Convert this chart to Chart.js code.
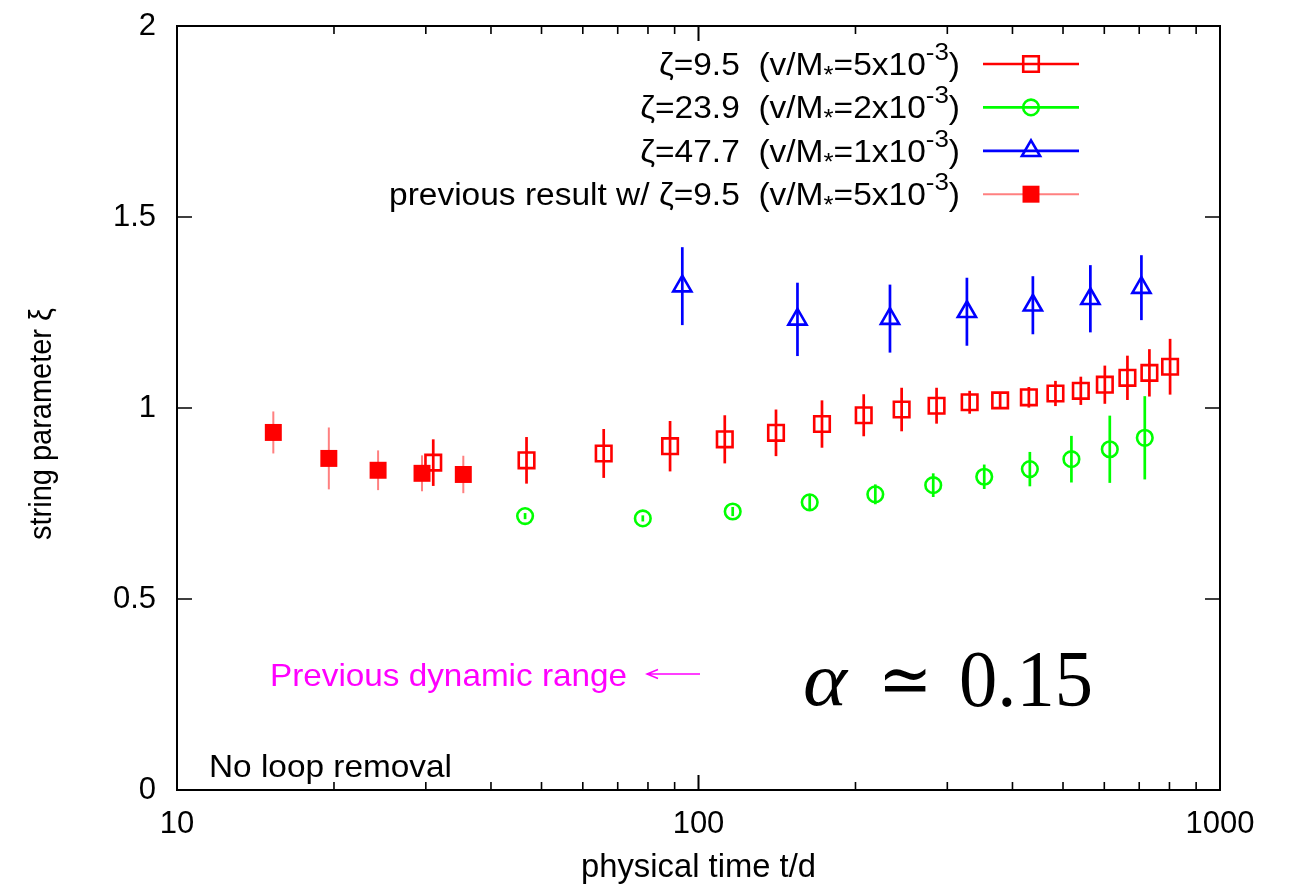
<!DOCTYPE html>
<html lang="en">
<head>
<meta charset="UTF-8">
<title>string parameter xi vs physical time</title>
<script src="https://cdn.jsdelivr.net/npm/chart.js"></script>
<style>
  html, body { margin: 0; padding: 0; background: #fff; }
  #wrap { width: 1292px; height: 892px; position: relative; }
</style>
</head>
<body>
<div id="wrap"><canvas id="myChart"></canvas></div>
<script>
// zeta = 9.5  (v/M* = 5x10^-3)
var tZeta95 = [31.0, 46.8, 65.8, 88.2, 112.3, 140.8, 172.5, 207.4, 245.2, 286.1, 331.1, 378.8, 430.0, 483.6, 540.9, 601.4, 664.5, 732.2, 802.2];
var xiZeta95 = [0.857, 0.863, 0.881, 0.900, 0.918, 0.935, 0.958, 0.981, 0.996, 1.006, 1.015, 1.020, 1.028, 1.038, 1.045, 1.061, 1.079, 1.092, 1.108];
var errZeta95 = [0.061, 0.061, 0.064, 0.066, 0.063, 0.061, 0.062, 0.055, 0.057, 0.047, 0.030, 0.020, 0.027, 0.033, 0.037, 0.050, 0.058, 0.062, 0.073];

// zeta = 23.9  (v/M* = 2x10^-3)
var tZeta239 = [46.5, 78.2, 116.3, 163.4, 218.3, 281.9, 353.1, 431.9, 518.9, 614.7, 717.4];
var xiZeta239 = [0.717, 0.711, 0.729, 0.753, 0.774, 0.798, 0.820, 0.840, 0.866, 0.892, 0.922];
var errZeta239 = [0.008, 0.008, 0.012, 0.020, 0.026, 0.031, 0.032, 0.045, 0.061, 0.088, 0.109];

// zeta = 47.7  (v/M* = 1x10^-3)
var tZeta477 = [93.1, 154.8, 232.9, 327.1, 437.7, 564.2, 706.8];
var xiZeta477 = [1.319, 1.232, 1.234, 1.252, 1.269, 1.286, 1.315];
var errZeta477 = [0.102, 0.096, 0.089, 0.089, 0.076, 0.088, 0.085];

// previous result w/ zeta = 9.5
var tPrev = [15.3, 19.55, 24.3, 29.5, 35.4];
var xiPrev = [0.936, 0.868, 0.837, 0.829, 0.826];
var errPrev = [0.055, 0.081, 0.052, 0.047, 0.049];

var xTicks = [10, 100, 1000];
var xTickLabels = ['10', '100', '1000'];
var yTicks = [0, 0.5, 1, 1.5, 2];
var yTickLabels = ['0', '0.5', '1', '1.5', '2'];

var FONT = "'Liberation Sans', Arial, sans-serif";
Chart.defaults.font.family = FONT;
Chart.defaults.color = '#000';

function pts(xs, ys) {
    return xs.map(function (x, i) { return { x: x, y: ys[i] }; });
}

var datasets = [
    { label: 'zeta95', data: pts(tZeta95, xiZeta95), err: errZeta95,
      pointStyle: 'rect', pointRadius: 11, pointBorderWidth: 2.6,
      pointBorderColor: '#ff0000', pointBackgroundColor: 'rgba(0,0,0,0)',
      barColor: '#ff0000', barWidth: 2.7 },
    { label: 'zeta239', data: pts(tZeta239, xiZeta239), err: errZeta239,
      pointStyle: 'circle', pointRadius: 7.8, pointBorderWidth: 2.6,
      pointBorderColor: '#00ff00', pointBackgroundColor: 'rgba(0,0,0,0)',
      barColor: '#00ff00', barWidth: 2.7 },
    { label: 'zeta477', data: pts(tZeta477, xiZeta477), err: errZeta477,
      pointStyle: 'triangle', pointRadius: 10.5, pointBorderWidth: 2.6,
      pointBorderColor: '#0000ff', pointBackgroundColor: 'rgba(0,0,0,0)',
      barColor: '#0000ff', barWidth: 2.7 },
    { label: 'prev', data: pts(tPrev, xiPrev), err: errPrev,
      pointStyle: 'rect', pointRadius: 12, pointBorderWidth: 0,
      pointBorderColor: '#ff0000', pointBackgroundColor: '#ff0000',
      barColor: '#ff8080', barWidth: 2 }
];

// legend rows: text, subscript '*', text, superscript '-3', ')'
var legendRows = [
    { pre: 'ζ=9.5  (v/M', mid: '=5x10', color: '#ff0000', lw: 2.7, marker: 'rect', r: 11, fill: false },
    { pre: 'ζ=23.9  (v/M', mid: '=2x10', color: '#00ff00', lw: 2.7, marker: 'circle', r: 7.8, fill: false },
    { pre: 'ζ=47.7  (v/M', mid: '=1x10', color: '#0000ff', lw: 2.7, marker: 'triangle', r: 10.5, fill: false },
    { pre: 'previous result w/ ζ=9.5  (v/M', mid: '=5x10', color: '#ff0000', lineColor: '#ff8080', lw: 2, marker: 'rect', r: 12, fill: true }
];

function marker(c, style, r, x, y, fill) {
    c.beginPath();
    if (style === 'rect') {
        var s = r * Math.SQRT1_2;
        c.rect(x - s, y - s, 2 * s, 2 * s);
    } else if (style === 'circle') {
        c.arc(x, y, r, 0, 2 * Math.PI);
    } else {
        c.moveTo(x, y - r);
        c.lineTo(x + 0.866 * r, y + 0.5 * r);
        c.lineTo(x - 0.866 * r, y + 0.5 * r);
        c.closePath();
    }
    if (fill) c.fill(); else c.stroke();
}

function fitText(c, text, x, y, font, width, align, base) {
    c.save();
    c.font = font;
    c.textBaseline = base || 'alphabetic';
    var w = c.measureText(text).width;
    var sx = width ? width / w : 1;
    c.translate(x, y);
    c.scale(sx, 1);
    c.textAlign = align || 'left';
    c.fillText(text, 0, 0);
    c.restore();
}

var errorBars = {
    id: 'errorBars',
    beforeDatasetsDraw: function (chart) {
        var c = chart.ctx, xs = chart.scales.x, ys = chart.scales.y;
        c.save();
        chart.data.datasets.forEach(function (ds) {
            c.strokeStyle = ds.barColor;
            c.lineWidth = ds.barWidth;
            ds.data.forEach(function (p, i) {
                var px = xs.getPixelForValue(p.x);
                c.beginPath();
                c.moveTo(px, ys.getPixelForValue(p.y - ds.err[i]));
                c.lineTo(px, ys.getPixelForValue(p.y + ds.err[i]));
                c.stroke();
            });
        });
        c.restore();
    }
};

var decorations = {
    id: 'decorations',
    afterDraw: function (chart) {
        var c = chart.ctx, a = chart.chartArea;
        var xs = chart.scales.x, ys = chart.scales.y;
        c.save();
        // frame
        c.strokeStyle = '#000';
        c.lineWidth = 2;
        c.strokeRect(a.left, a.top, a.right - a.left, a.bottom - a.top);
        // y ticks, inward on both sides
        c.lineWidth = 1.6;
        yTicks.forEach(function (v) {
            var py = ys.getPixelForValue(v);
            c.beginPath();
            c.moveTo(a.left, py); c.lineTo(a.left + 15, py);
            c.moveTo(a.right, py); c.lineTo(a.right - 15, py);
            c.stroke();
        });
        // x ticks (log, with minor ones)
        for (var d = 10; d < 1000; d *= 10) {
            for (var k = 1; k <= 10; k++) {
                var px = xs.getPixelForValue(k * d);
                var len = (k === 1 || k === 10) ? 15 : 8;
                c.beginPath();
                c.moveTo(px, a.bottom); c.lineTo(px, a.bottom - len);
                c.moveTo(px, a.top); c.lineTo(px, a.top + len);
                c.stroke();
            }
        }
        // axis titles
        c.fillStyle = '#000';
        fitText(c, 'physical time t/d', (a.left + a.right) / 2, 868, '34px ' + FONT, 235, 'center', 'middle');
        c.save();
        c.translate(42, 424);
        c.rotate(-Math.PI / 2);
        fitText(c, 'string parameter ξ', 0, 0, '31px ' + FONT, 232, 'center', 'middle');
        c.restore();

        // legend
        var big = '31px ' + FONT, small = '24px ' + FONT;
        function rowWidth(r) {
            c.font = big;
            var w = c.measureText(r.pre).width + c.measureText(r.mid).width + c.measureText(')').width;
            c.font = small;
            w += c.measureText('*').width + c.measureText('-3').width;
            return w;
        }
        var sx = 571 / rowWidth(legendRows[3]);
        legendRows.forEach(function (r, i) {
            var yc = 64 + i * 43.4, base = yc + 11;
            var w = rowWidth(r);
            c.save();
            c.translate(960, base);
            c.scale(sx, 1);
            c.fillStyle = '#000';
            c.textBaseline = 'alphabetic';
            c.textAlign = 'left';
            var x = -w;
            c.font = big; c.fillText(r.pre, x, 0); x += c.measureText(r.pre).width;
            c.font = small; c.fillText('*', x, 8); x += c.measureText('*').width;
            c.font = big; c.fillText(r.mid, x, 0); x += c.measureText(r.mid).width;
            c.font = small; c.fillText('-3', x, -15); x += c.measureText('-3').width;
            c.font = big; c.fillText(')', x, 0);
            c.restore();
            c.strokeStyle = r.lineColor || r.color;
            c.lineWidth = r.lw;
            c.beginPath();
            c.moveTo(983, yc); c.lineTo(1079, yc);
            c.stroke();
            c.strokeStyle = r.color;
            c.fillStyle = r.color;
            c.lineWidth = 2.6;
            marker(c, r.marker, r.r, 1031, yc, r.fill);
        });

        // annotations
        c.fillStyle = '#ff00ff';
        fitText(c, 'Previous dynamic range', 270, 686, '32px ' + FONT, 357);
        c.strokeStyle = '#ff00ff';
        c.lineWidth = 1.5;
        c.beginPath();
        c.moveTo(700, 674); c.lineTo(647, 674);
        c.moveTo(658, 669.5); c.lineTo(647, 674); c.lineTo(658, 678.5);
        c.stroke();

        c.fillStyle = '#000';
        fitText(c, 'No loop removal', 209, 777, '32px ' + FONT, 243);

        fitText(c, 'α', 803, 705, 'italic 76px "Liberation Serif", serif', 44);
        fitText(c, '≃', 878, 704, '72px "Liberation Serif", "DejaVu Serif", serif', 54);
        fitText(c, '0.15', 959, 706, '80px "Liberation Serif", serif', 134);
        c.restore();
    }
};

function noPad(s) {
    s.paddingTop = 0; s.paddingBottom = 0;
    s.paddingLeft = 0; s.paddingRight = 0;
}

var ctx = document.getElementById('myChart').getContext('2d');
var myChart = new Chart(ctx, {
    type: 'scatter',
    data: { datasets: datasets },
    options: {
        responsive: true,
        maintainAspectRatio: false,
        animation: false,
        layout: { padding: { top: 26, right: 72, left: 0, bottom: 0 } },
        plugins: { legend: { display: false }, tooltip: { enabled: false } },
        scales: {
            x: {
                type: 'logarithmic',
                min: 10,
                max: 1000,
                grid: { display: false, drawTicks: false, tickLength: 0 },
                border: { display: false },
                afterBuildTicks: function (s) {
                    s.ticks = xTicks.map(function (v) { return { value: v }; });
                },
                afterFit: function (s) { s.height = 102; noPad(s); },
                ticks: {
                    autoSkip: false,
                    maxRotation: 0,
                    padding: 16,
                    font: { size: 31 },
                    color: '#000',
                    callback: function (v, i) { return xTickLabels[i]; }
                }
            },
            y: {
                min: 0,
                max: 2,
                grid: { display: false, drawTicks: false, tickLength: 0 },
                border: { display: false },
                afterBuildTicks: function (s) {
                    s.ticks = yTicks.map(function (v) { return { value: v }; });
                },
                afterFit: function (s) { s.width = 177; noPad(s); },
                ticks: {
                    padding: 21,
                    font: { size: 31 },
                    color: '#000',
                    callback: function (v, i) { return yTickLabels[i]; }
                }
            }
        }
    },
    plugins: [errorBars, decorations]
});
</script>
</body>
</html>
